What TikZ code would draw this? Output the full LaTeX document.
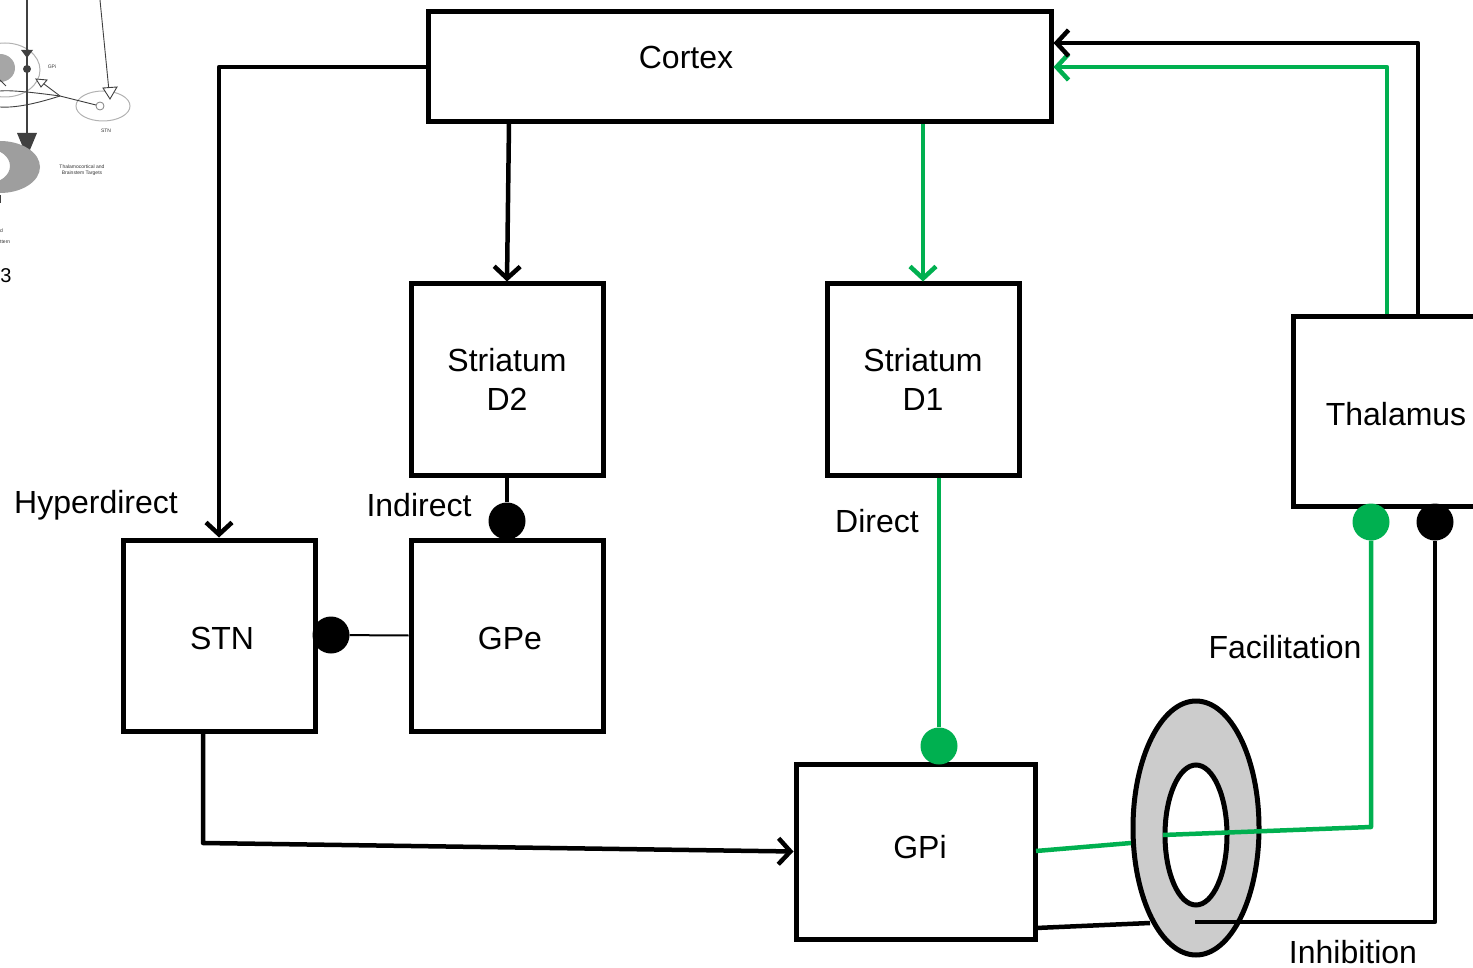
\documentclass[tikz,border=0pt]{standalone}
\usepackage{fontspec}
\setmainfont{Liberation Sans}
\usetikzlibrary{arrows.meta}
\definecolor{ggreen}{RGB}{0,176,80}
\definecolor{ringgray}{RGB}{204,204,204}
\begin{document}
\begin{tikzpicture}[x=1pt,y=-1pt,
  box/.style={draw, line width=5pt, inner sep=0pt, font=\fontsize{32}{39}\selectfont, align=center},
  lbl/.style={font=\fontsize{32}{39}\selectfont, inner sep=0pt},
  conn/.style={line width=4.5pt, line join=round},
  arr/.style={conn, -{Straight Barb[length=12pt,width=26pt]}},
  dot/.style={circle, fill, inner sep=0pt, minimum size=37pt},
  tiny/.style={font=\fontsize{5}{6}\selectfont, inner sep=0pt, text=black!80, align=center}]
\useasboundingbox (0,0) rectangle (1473,968);
\clip (0,0) rectangle (1473,968);

% ---- fragment of another figure, top-left ----
\begin{scope}[black!75]
  \fill[black!35] (0,68) ellipse [x radius=15, y radius=14];
  \draw[black!30, line width=1pt] (5,70) ellipse [x radius=35, y radius=27];
  \draw[black!30, line width=1pt] (103,106) ellipse [x radius=27, y radius=15];
  \draw[black!50, line width=0.8pt] (100,106) circle [radius=4];
  \draw[line width=1.8pt] (27,0) -- (27,136);
  \fill (21,50) -- (33,50) -- (27,58) -- cycle;
  \fill (27,69) circle [radius=4];
  \fill (17,133) -- (37,133) -- (27,157) -- cycle;
  \draw[line width=0.9pt] (100,0) -- (109,91);
  \draw[line width=0.9pt, fill=white] (103,88) -- (117,87) -- (110,99) -- cycle;
  \draw[line width=0.9pt] (96,105) -- (60,96) -- (44,84);
  \draw[line width=0.9pt, fill=white] (36,79) -- (47,80) -- (41,87) -- cycle;
  \draw[line width=0.9pt] (60,96) .. controls (30,92) and (10,90) .. (0,91);
  \draw[line width=0.9pt] (60,96) .. controls (35,104) and (15,108) .. (0,107);
  \draw[line width=0.9pt] (0,80) -- (6,86);
  \fill[black!38, even odd rule] (0,167) ellipse [x radius=40, y radius=26] (-12,166) ellipse [x radius=22, y radius=17];
  \draw[line width=0.9pt] (0,195) -- (0,203);
  \node[tiny] (gpitxt) at (52,67) {GPi};
  \node[tiny] (stntxt) at (106,131) {STN};
  \node[tiny] (targets) at (82,170) {Thalamocortical and\\Brainstem Targets};
  \node[tiny, anchor=west] (frag1) at (0,231) {d};
  \node[tiny, anchor=west] (frag2) at (0,242) {ttern};
  \node[font=\fontsize{20}{24}\selectfont, inner sep=0pt, text=black] (three) at (6,276) {3};
\end{scope}

% ---- boxes ----
\node[box, minimum width=623pt, minimum height=110pt] (cortex) at (739.5,67) {};
\node[lbl] (cortextxt) at (686,57) {Cortex};
\node[box, minimum width=192pt, minimum height=191pt] (d2) at (507,379.5) {Striatum\\D2};
\node[box, minimum width=192pt, minimum height=191pt] (d1) at (923,379.5) {Striatum\\D1};
\node[box, minimum width=192pt, minimum height=191pt] (stn) at (219,635.5) {};
\node[lbl] (stntxt2) at (222,638) {STN};
\node[box, minimum width=192pt, minimum height=191pt] (gpe) at (507,635.5) {};
\node[lbl] (gpetxt) at (510,638) {GPe};
\node[box, minimum width=239pt, minimum height=175pt] (gpi) at (915.5,851.5) {};
\node[lbl] (gpitxt2) at (920,847) {GPi};
\node[box, minimum width=210pt, minimum height=189pt] (thal) at (1398,411.5) {};
\node[lbl] (thaltxt) at (1396,414) {Thalamus};

% ---- ring ----
\fill[ringgray] (1196,828) ellipse [x radius=63, y radius=127];
\draw[line width=5pt] (1196,828) ellipse [x radius=63, y radius=127];
\draw[line width=5pt, fill=white] (1196,835) ellipse [x radius=31, y radius=70];

% ---- dots ----
\node[dot] (dotgpe) at (507,521) {};
\node[dot] (dotstn) at (331,635) {};
\node[dot, ggreen] (dotgpi) at (939,746) {};
\node[dot, ggreen] (dotthg) at (1371,522) {};
\node[dot] (dotthk) at (1435,522) {};

% ---- coordinates ----
\coordinate (s1) at (203,843);
\coordinate (ro1) at (1131,843);
\coordinate (ri1) at (1163,835);
\coordinate (gc) at (1371,827);
\coordinate (gp1) at (1036,851);
\coordinate (bp1) at (1036,928);
\coordinate (ro2) at (1150,923);
\coordinate (ri2) at (1195,922);
\coordinate (kc) at (1435,922);
\coordinate (g1) at (1387,67);
\coordinate (k1) at (1418,43);
\coordinate (c1) at (509,123);

% ---- connectors ----
\draw[arr] (c1) -- (d2.north);
\draw[arr, ggreen] (cortex.south -| d1.north) -- (d1.north);
\draw[arr] (cortex.west) -| (stn.north);
\draw[conn] (d2.south) -- (dotgpe);
\draw[line width=2pt] (gpe.west) -- (dotstn);
\draw[conn, ggreen] (d1.south -| dotgpi) -- (dotgpi);
\draw[arr] (stn.south -| s1) -- (s1) -- (gpi.west);
\draw[conn, ggreen] (gp1) -- (ro1);
\draw[conn, ggreen] (ri1) -- (gc) -- (dotthg);
\draw[conn] (bp1) -- (ro2);
\draw[conn] (ri2) -- (kc) -- (dotthk);
\draw[arr, ggreen] (thal.north -| g1) -- (g1) -- (cortex.east |- g1);
\draw[arr] (thal.north -| k1) -- (k1) -- (cortex.east |- k1);

% ---- labels ----
\node[lbl] (hyper) at (96,505) {Hyperdirect};
\node[lbl] (indirect) at (419,505) {Indirect};
\node[lbl] (direct) at (877,521) {Direct};
\node[lbl] (facil) at (1285,647) {Facilitation};
\node[lbl] (inhib) at (1353,952) {Inhibition};
\end{tikzpicture}
\end{document}
